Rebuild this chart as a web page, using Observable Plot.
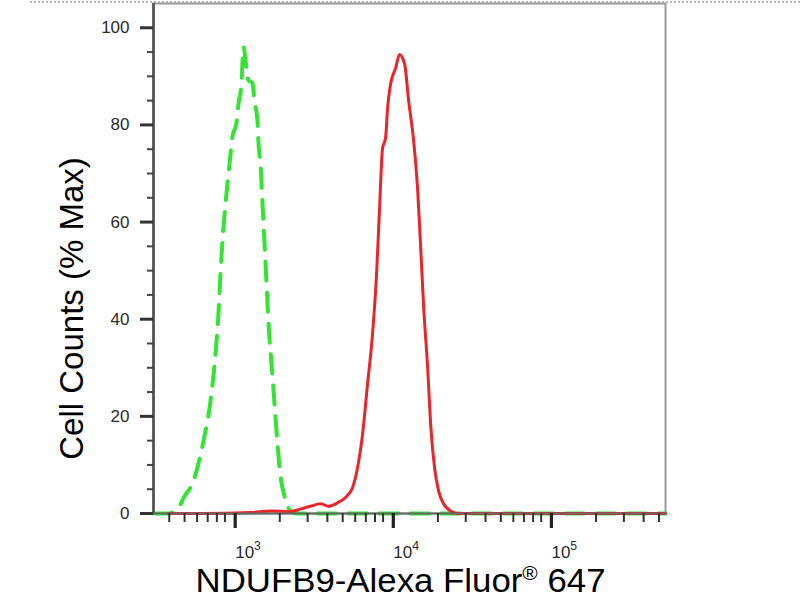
<!DOCTYPE html>
<html><head><meta charset="utf-8">
<script src="https://cdn.jsdelivr.net/npm/d3@7"></script>
<script src="https://cdn.jsdelivr.net/npm/@observablehq/plot@0.6"></script>
<style>
html,body{margin:0;padding:0;background:#fff;}
#wrap{position:relative;width:800px;height:600px;}
#topline{position:absolute;left:30px;right:0;top:1px;border-top:2px dotted #b8b8b8;}
</style></head><body><div id="wrap"><div id="topline"></div></div>
<script>
const xDomain = [318, 550000];
const yDomain = [0, 105];

const greenX = [318, 395, 457, 492, 569, 658, 729, 784, 819, 843, 868, 907, 962, 1004, 1065, 1096, 1145, 1179, 1232, 1268, 1344, 1384, 1446, 1468, 1511, 1556, 1602, 1650, 1699, 1774, 1853, 1935, 2021, 2141, 2272, 2442, 2704, 550000];
const greenY = [0, 0, 1.1, 3.2, 6.7, 14.9, 23.1, 32.8, 41.1, 49.3, 56.1, 63.7, 71.9, 77.6, 80.4, 84.3, 88.4, 96.0, 91.7, 89.2, 88.6, 84.9, 80.8, 76.1, 71.9, 63.7, 55.5, 47.2, 39.0, 30.8, 22.5, 14.3, 7.7, 3.6, 1.1, 0.1, 0, 0];

const redX = [395, 631, 1305, 1747, 2338, 2704, 3130, 3622, 4066, 4637, 5210, 5772, 6205, 6675, 7177, 7722, 8187, 8553, 8934, 9333, 9612, 10040, 10797, 11447, 12319, 13072, 14057, 14909, 15573, 16266, 17225, 17993, 19054, 20211, 21733, 24048, 26614, 550000];
const redY = [0, 0, 0.2, 0.5, 0.4, 0.9, 1.5, 2.0, 1.5, 2.2, 3.3, 5.3, 9.4, 16.3, 26.6, 37, 49.3, 62.9, 75.2, 77.3, 83.5, 88.4, 91.7, 94.5, 92.5, 84.9, 76.6, 66.4, 54.6, 42.3, 30, 18.4, 9.4, 4.6, 2, 0.5, 0, 0];

const yMajorTicks = [0, 20, 40, 60, 80, 100];
const yMinorTicks = [5, 10, 15, 25, 30, 35, 45, 50, 55, 65, 70, 75, 85, 90, 95];
const xMajorTicks = [1000, 10000, 100000];
const xTickBase = "10";
const xTickExponents = ["3", "4", "5"];
const xMinorTicks = [400, 500, 600, 700, 800, 900, 2000, 3000, 4000, 5000, 6000, 7000, 8000, 9000, 20000, 30000, 40000, 50000, 60000, 70000, 80000, 90000, 200000, 300000, 400000, 500000];
const xTitleMain = "NDUFB9-Alexa Fluor";
const xTitleSup = "®";
const xTitleEnd = " 647";
const xTitle = [xTitleMain + xTitleSup + xTitleEnd];
const yTitle = ["Cell Counts (% Max)"];

const green = greenX.map((x, i) => ({x, y: greenY[i]}));
const red = redX.map((x, i) => ({x, y: redY[i]}));

const chart = Plot.plot({
  width: 800, height: 600,
  marginLeft: 153, marginRight: 135, marginTop: 3, marginBottom: 87,
  x: {type: "log", domain: xDomain},
  y: {domain: yDomain},
  style: {fontFamily: "'Liberation Sans', Arial, sans-serif", background: "transparent", overflow: "visible"},
  marks: [
    Plot.frame({stroke: "#9a9a9a", strokeWidth: 2}),
    Plot.line(green, {x: "x", y: "y", stroke: "#35e335", strokeWidth: 4, strokeDasharray: "19,12", curve: "monotone-x"}),
    Plot.line(red, {x: "x", y: "y", stroke: "#e6262b", strokeWidth: 3, curve: "monotone-x"}),
    Plot.ruleX([xDomain[0]], {stroke: "#4a4a4a", strokeWidth: 2.5}),
    Plot.ruleY([yDomain[0]], {stroke: "#666", strokeWidth: 2}),
    Plot.axisY({ticks: yMajorTicks, tickSize: 13, tickPadding: 11, stroke: "#333", fill: "#2a2a2a", strokeWidth: 3, fontSize: 17, label: null}),
    Plot.axisY({ticks: yMinorTicks, tickSize: 6, stroke: "#444", fill: "none", strokeWidth: 2, label: null}),
    Plot.axisX({ticks: xMajorTicks, tickSize: 15, tickPadding: 17, stroke: "#222", fill: "#2a2a2a", strokeWidth: 3.2, fontSize: 17, textAnchor: "start", dx: 3,
      tickFormat: d => xTickBase + xTickExponents[xMajorTicks.indexOf(d)], label: null}),
    Plot.axisX({ticks: xMinorTicks, tickSize: 9, stroke: "#333", fill: "none", strokeWidth: 2, label: null}),
    Plot.text(xTitle, {frameAnchor: "bottom", textAnchor: "middle", lineAnchor: "middle", dx: -9, dy: 68, fontSize: 33, fill: "#000"}),
    Plot.text(yTitle, {frameAnchor: "left", textAnchor: "middle", lineAnchor: "middle", rotate: -90, dx: -81, dy: 50, fontSize: 33, fill: "#000"})
  ]
});
chart.style.position = "absolute";
chart.style.left = "0px";
chart.style.top = "0px";
document.getElementById("wrap").appendChild(chart);

const sel = d3.select(chart);
// superscript exponents on the x tick labels
sel.selectAll("text").filter(function() {
  return xTickExponents.some(e => this.textContent === xTickBase + e);
}).each(function() {
  const t = d3.select(this);
  const exp = this.textContent.slice(xTickBase.length);
  t.text(null);
  t.append("tspan").text(xTickBase);
  t.append("tspan").attr("font-size", "72%").attr("dy", "-0.6em").text(exp);
});
// superscript the registered sign in the x title
sel.selectAll("text").filter(function() { return this.textContent === xTitle[0]; })
  .each(function() {
    const t = d3.select(this);
    t.text(null);
    t.append("tspan").text(xTitleMain);
    t.append("tspan").attr("font-size", "60%").attr("dy", "-0.62em").text(xTitleSup);
    t.append("tspan").attr("dy", "0.37em").text(xTitleEnd);
    t.attr("textLength", 410).attr("lengthAdjust", "spacingAndGlyphs");
  });
</script>
</body></html>
